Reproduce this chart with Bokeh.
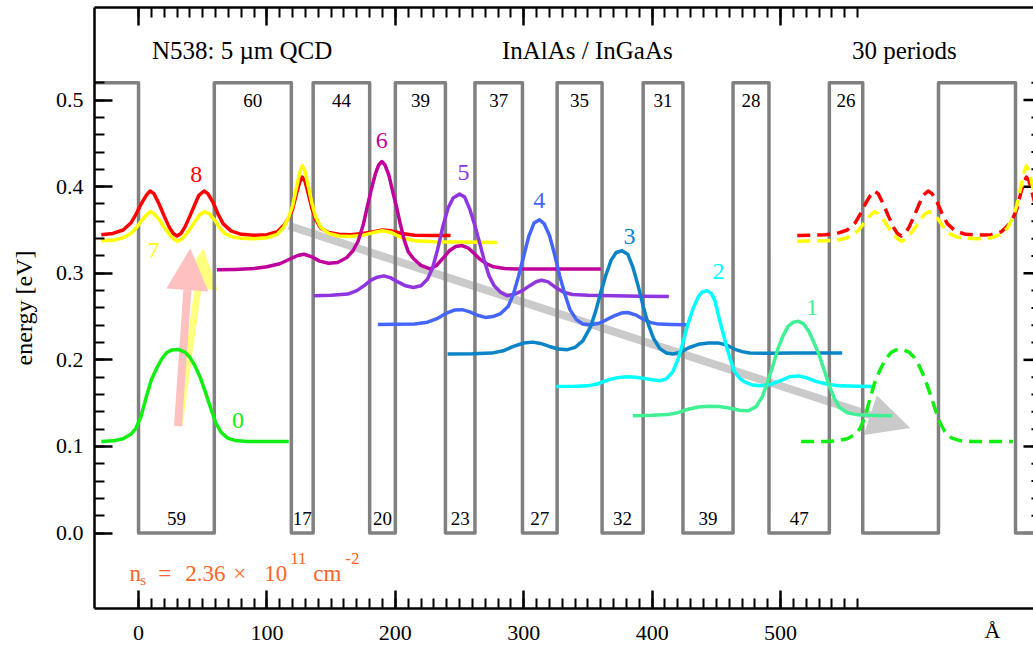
import numpy as np
from bokeh.plotting import figure
from bokeh.models import (Range1d, LinearAxis, FixedTicker, NumeralTickFormatter,
                          Arrow, NormalHead, ColumnDataSource)
from bokeh.core.properties import value
from bokeh.embed import file_html
from bokeh.resources import INLINE

SERIF = "Liberation Serif"

# ---------------- layer sequence of one period (Å): well, barrier, well, ... ----
layer_widths = [59, 60, 17, 44, 20, 39, 23, 37, 27, 35, 32, 31, 39, 28, 47, 26]
BARRIER = 0.52                     # conduction band offset [eV]
PERIOD = sum(layer_widths)         # 564 Å

# ---------------- subband |psi|^2 curves, offset by their energies ----------
# state 8
x8 = [-51, -29, -20, -12, -6, -2, 2, 6, 9, 12, 16, 20, 24, 27, 30, 33, 36, 40, 44, 47,
      51, 54, 58, 62, 66, 72, 80, 90, 100, 108, 113, 117, 120, 123, 125.5, 127.5, 129.5,
      132, 135, 138, 142, 148, 156, 165, 175, 183, 190, 197, 205, 215, 230, 243]
e8 = [0.3435, 0.3445, 0.346, 0.350, 0.358, 0.368, 0.380, 0.390, 0.395, 0.392,
      0.380, 0.366, 0.353, 0.346, 0.343, 0.346, 0.353, 0.366, 0.380, 0.390,
      0.395, 0.392, 0.382, 0.368, 0.357, 0.349, 0.345, 0.344, 0.3445, 0.348,
      0.355, 0.364, 0.374, 0.392, 0.405, 0.411, 0.407, 0.393, 0.375, 0.362,
      0.352, 0.347, 0.345, 0.3445, 0.346, 0.348, 0.350, 0.349, 0.346, 0.344,
      0.3435, 0.3435]
# state 7
x7 = [-51, -29, -20, -12, -6, -2, 2, 6, 9, 12, 16, 20, 24, 27, 30.5, 34, 37, 41, 45, 48,
      51.5, 55, 59, 63, 67, 73, 80, 90, 100, 108, 113, 117, 120, 123, 125.5, 127.5, 129.5,
      132, 135, 138, 142, 148, 156, 165, 175, 183, 190, 197, 205, 215, 230, 250, 279]
e7 = [0.337, 0.3375, 0.338, 0.341, 0.346, 0.352, 0.360, 0.367, 0.371, 0.369,
      0.362, 0.353, 0.345, 0.340, 0.337, 0.340, 0.345, 0.353, 0.362, 0.368,
      0.371, 0.369, 0.362, 0.353, 0.346, 0.342, 0.3405, 0.340, 0.341, 0.345,
      0.353, 0.365, 0.378, 0.399, 0.416, 0.424, 0.419, 0.402, 0.381, 0.365,
      0.353, 0.346, 0.343, 0.3425, 0.344, 0.347, 0.349, 0.347, 0.341, 0.3375,
      0.3365, 0.336, 0.3356]
# state 6
x6 = [61, 75, 90, 100, 110, 118, 124, 129, 135, 141, 148, 155, 162, 167, 171, 175, 178,
      181.5, 184.5, 187, 189.5, 192, 195, 198, 201, 204, 207, 210, 214, 220, 227, 232,
      237.5, 242, 247, 252, 257, 262, 266, 271, 276.5, 285, 295, 320, 340, 360]
e6 = [0.304, 0.3045, 0.3055, 0.3075, 0.311, 0.3165, 0.3205, 0.322, 0.319, 0.314,
      0.3115, 0.3125, 0.318, 0.326, 0.337, 0.356, 0.376, 0.398, 0.415, 0.425,
      0.429, 0.425, 0.413, 0.394, 0.376, 0.356, 0.338, 0.325, 0.317, 0.309,
      0.305, 0.309, 0.318, 0.326, 0.331, 0.332, 0.329, 0.322, 0.316, 0.311,
      0.3075, 0.3055, 0.305, 0.305, 0.305, 0.305]
# state 5
x5 = [136.3, 150, 163, 170, 176, 181, 186, 191, 196, 202, 208, 214, 220, 225, 229, 233,
      237, 241, 245, 250, 254, 258, 262, 265.5, 269, 273, 277, 282, 287, 293, 299, 305,
      310, 314, 319, 325, 331, 338, 350, 370, 390, 413]
e5 = [0.274, 0.2745, 0.276, 0.280, 0.286, 0.292, 0.2955, 0.297, 0.295, 0.290,
      0.2855, 0.2836, 0.2855, 0.293, 0.306, 0.328, 0.354, 0.375, 0.387, 0.3914,
      0.388, 0.374, 0.355, 0.336, 0.316, 0.297, 0.2855, 0.278, 0.274, 0.276,
      0.280, 0.286, 0.2905, 0.292, 0.290, 0.2835, 0.278, 0.2755, 0.2745, 0.274,
      0.2735, 0.2733]
# state 4
x4 = [186.4, 200, 215, 225, 233, 240, 246, 252, 258, 264, 270, 276, 282, 288, 292, 296,
      300, 304, 308, 312.3, 316, 320, 324, 328, 332, 336, 341, 346, 352, 358, 364, 370,
      376, 381, 387, 393, 399, 405, 415, 427]
e4 = [0.2409, 0.241, 0.2415, 0.2435, 0.248, 0.254, 0.2575, 0.258, 0.2555, 0.2515,
      0.249, 0.250, 0.2535, 0.262, 0.276, 0.297, 0.320, 0.343, 0.358, 0.3618,
      0.357, 0.344, 0.322, 0.297, 0.276, 0.258, 0.2465, 0.2415, 0.2405, 0.242,
      0.246, 0.2505, 0.254, 0.2547, 0.252, 0.247, 0.243, 0.2413, 0.2408, 0.2405]
# state 3
x3 = [240.7, 260, 275, 284, 292, 300, 307, 313, 320, 327, 334, 340, 346, 352, 356, 360,
      364, 368, 372, 376.5, 381, 385, 389, 393, 397, 401, 406, 411, 416, 422, 429, 436,
      444, 452, 458, 464, 470, 476, 490, 510, 530, 548]
e3 = [0.2067, 0.207, 0.2078, 0.2105, 0.2155, 0.2195, 0.2205, 0.219, 0.2155, 0.2125,
      0.2118, 0.2145, 0.222, 0.238, 0.256, 0.278, 0.298, 0.315, 0.324, 0.326,
      0.322, 0.307, 0.286, 0.262, 0.241, 0.225, 0.213, 0.208, 0.2067, 0.209,
      0.2143, 0.218, 0.2195, 0.2194, 0.217, 0.2125, 0.2095, 0.208, 0.2076, 0.2078,
      0.2078, 0.2078]
# state 2
x2 = [325.3, 340, 350, 358, 366, 373, 380, 387, 394, 400, 406, 411, 416, 420, 424, 428,
      432, 436, 439, 442.7, 446, 449, 452, 455, 458, 461, 464, 468, 472, 478, 484, 492,
      500, 507, 514, 521, 528, 535, 545, 560, 572.4]
e2 = [0.1693, 0.1695, 0.170, 0.1725, 0.177, 0.1795, 0.1805, 0.180, 0.1785, 0.177,
      0.1759, 0.178, 0.186, 0.200, 0.220, 0.242, 0.260, 0.273, 0.2785, 0.2798,
      0.277, 0.268, 0.249, 0.232, 0.215, 0.200, 0.187, 0.179, 0.1745, 0.171,
      0.170, 0.1715, 0.176, 0.1805, 0.1815, 0.179, 0.175, 0.1725, 0.170, 0.1695,
      0.1693]
# state 1
x1 = [385, 400, 412, 420, 428, 436, 444, 452, 460, 468, 475, 481, 486, 490, 494, 498,
      502, 506, 510, 514, 518, 522, 526, 530, 534, 538, 542, 546, 552, 560, 575, 587]
e1 = [0.1355, 0.136, 0.1368, 0.139, 0.143, 0.1455, 0.1465, 0.1462, 0.1445, 0.1418,
      0.1412, 0.146, 0.158, 0.175, 0.193, 0.213, 0.228, 0.239, 0.2435, 0.2445,
      0.2415, 0.233, 0.220, 0.206, 0.188, 0.170, 0.155, 0.145, 0.139, 0.1365,
      0.1358, 0.1355]
# state 0 (ground state)
x0 = [-48, -29, -20, -12, -6, -2, 2, 6, 10, 14, 18, 22, 26, 31, 36, 40, 44, 48, 52, 56,
      60, 64, 69, 75, 85, 117]
e0 = [0.1057, 0.1057, 0.1065, 0.109, 0.114, 0.121, 0.135, 0.157, 0.177, 0.190,
      0.201, 0.2085, 0.2115, 0.212, 0.209, 0.203, 0.193, 0.180, 0.163, 0.145,
      0.128, 0.117, 0.110, 0.107, 0.1058, 0.1058]

state_names = ["8", "7", "6", "5", "4", "3", "2", "1", "0"]
state_colors = ["#ff0000", "#ffff00", "#c0009c", "#9035e0", "#4466ff",
                "#0a84c6", "#00ffff", "#40f095", "#11ee11"]
state_x = [x8, x7, x6, x5, x4, x3, x2, x1, x0]
state_e = [e8, e7, e6, e5, e4, e3, e2, e1, e0]
# states repeated (dashed) in the next period
repeated = ["8", "7", "0"]

# tick positions
x_major = [0, 100, 200, 300, 400, 500]
x_minor = list(range(0, 561, 10))
y_major = [0.0, 0.1, 0.2, 0.3, 0.4, 0.5]
y_minor = [round(0.02 * i, 2) for i in range(27)]
UNIT_POS = 665          # where the unit sits in the x tick-label row

# ---------------- figure ------------------------------------------------------
X0, X1 = -34.3, 697.0
Y0, Y1 = -0.0871, 0.6069
p = figure(width=1033, height=650,
           x_range=Range1d(X0, X1), y_range=Range1d(Y0, Y1),
           output_backend="svg", toolbar_location=None,
           min_border_left=94, min_border_right=0, min_border_top=7,
           min_border_bottom=42)
p.grid.visible = False
p.outline_line_color = None
p.background_fill_color = "white"
p.border_fill_color = "white"


def inward_ticks(ax, ticker):
    ax.ticker = ticker
    ax.axis_line_width = 2.5
    ax.axis_line_color = "black"
    ax.major_tick_in = 18
    ax.major_tick_out = 0
    ax.minor_tick_in = 10
    ax.minor_tick_out = 0
    ax.major_tick_line_width = 2.5
    ax.minor_tick_line_width = 2
    ax.major_tick_line_color = "black"
    ax.minor_tick_line_color = "black"


x_ticker = FixedTicker(ticks=x_major, minor_ticks=x_minor)

# bottom axis
xa = p.xaxis[0]
inward_ticks(xa, x_ticker)
xa.major_label_standoff = 17
xa.major_label_text_font = SERIF
xa.major_label_text_font_size = "22px"
xa.major_label_text_color = "black"

# unit of the x axis, set in the same row as the tick labels
unit_axis = LinearAxis(ticker=FixedTicker(ticks=[UNIT_POS], minor_ticks=[]),
                       major_label_overrides={UNIT_POS: "Å"},
                       axis_line_color=None, major_tick_in=0, major_tick_out=0,
                       minor_tick_in=0, minor_tick_out=0,
                       major_label_standoff=-25,
                       major_label_text_font=SERIF,
                       major_label_text_font_size="22px",
                       major_label_text_color="black")
p.add_layout(unit_axis, "below")

# left axis
ya = p.yaxis[0]
inward_ticks(ya, FixedTicker(ticks=y_major, minor_ticks=y_minor))
ya.formatter = NumeralTickFormatter(format="0.0")
ya.major_label_standoff = 11
ya.major_label_text_font = SERIF
ya.major_label_text_font_size = "22px"
ya.major_label_text_color = "black"
ya.axis_label = "energy [eV]"
ya.axis_label_text_font = SERIF
ya.axis_label_text_font_size = "24px"
ya.axis_label_text_font_style = "normal"
ya.axis_label_text_color = "black"
ya.axis_label_standoff = 16

# top axis: ticks only (labels left unpainted, their room taken back)
top_axis = LinearAxis()
inward_ticks(top_axis, x_ticker)
top_axis.major_label_text_color = None
top_axis.major_label_text_font_size = "22px"
top_axis.major_label_standoff = -25
p.add_layout(top_axis, "above")

# right-hand edge: the tick marks of an axis just beyond the page edge
TICK_RIGHT_MAJOR, TICK_RIGHT_MINOR = 7.8, 1.6    # visible lengths [Å]
for ys_t, ln, lw in ((y_major, TICK_RIGHT_MAJOR, 2.5), (y_minor, TICK_RIGHT_MINOR, 2)):
    n = len(ys_t)
    p.segment(x0=[X1] * n, x1=[X1 - ln] * n, y0=ys_t, y1=ys_t,
              line_color="black", line_width=lw)

# ---------------- arrows (under everything else) -----------------------------
p.add_layout(Arrow(end=NormalHead(size=42, fill_color="#cacaca", line_color=None),
                   x_start=117, y_start=0.3548, x_end=601, y_end=0.1212,
                   line_color="#cacaca", line_width=8, level="underlay"))
p.add_layout(Arrow(end=NormalHead(size=40, fill_color="#ffff80", line_color=None),
                   x_start=31.5, y_start=0.1235, x_end=50.6, y_end=0.329,
                   line_color="#ffff80", line_width=7, level="underlay"))
p.add_layout(Arrow(end=NormalHead(size=42, fill_color="#ffc0c0", line_color=None),
                   x_start=30.7, y_start=0.1235, x_end=40.3, y_end=0.329,
                   line_color="#ffc0c0", line_width=8, level="underlay"))

# ---------------- conduction band profile -------------------------------------
edges = np.concatenate([[0.0], np.cumsum(layer_widths)])
prof_x = [-60.0, 0.0]
prof_y = [BARRIER, BARRIER]
for k in range(2):
    for i, w in enumerate(layer_widths):
        lvl = 0.0 if i % 2 == 0 else BARRIER
        start = k * PERIOD + edges[i]
        prof_x += [start, start + w]
        prof_y += [lvl, lvl]
p.line(prof_x, prof_y, line_color="#808080", line_width=3.5, line_join="round")

centers = [(edges[i] + edges[i + 1]) / 2 for i in range(len(layer_widths))]
well_c = [c for i, c in enumerate(centers) if i % 2 == 0]
well_t = [str(w) for i, w in enumerate(layer_widths) if i % 2 == 0]
barr_c = [c for i, c in enumerate(centers) if i % 2 == 1]
barr_t = [str(w) for i, w in enumerate(layer_widths) if i % 2 == 1]
p.text(x=well_c, y=[0.0173] * len(well_c), text=well_t, text_font=value(SERIF),
       text_font_size="19px", text_align="center", text_baseline="middle",
       text_color="black")
p.text(x=barr_c, y=[0.5] * len(barr_c), text=barr_t, text_font=value(SERIF),
       text_font_size="19px", text_align="center", text_baseline="middle",
       text_color="black")

# ---------------- wavefunctions -----------------------------------------------
for name, xs, es, col in zip(state_names, state_x, state_e, state_colors):
    if name in repeated:
        p.line([x + PERIOD for x in xs], es, line_color=col, line_width=3.5,
               line_dash="13 7", line_join="round")
        xs, es = xs[1:], es[1:]
    p.line(xs, es, line_color=col, line_width=3.5, line_join="round")

lab_x = [45, 11.7, 189.5, 253, 312, 382.4, 451.7, 524.5, 77.4]
lab_y = [0.4145, 0.326, 0.453, 0.4164, 0.3837, 0.342, 0.302, 0.2605, 0.1305]
p.text(x=lab_x, y=lab_y, text=state_names, text_color=state_colors,
       text_font=value(SERIF), text_font_size="24px", text_align="center",
       text_baseline="middle")

# ---------------- captions ----------------------------------------------------
p.text(x=[10.4, 283.0, 555.6], y=[0.557] * 3,
       text=["N538: 5 µm QCD", "InAlAs / InGaAs", "30 periods"],
       text_font=value(SERIF), text_font_size="25px", text_align="left",
       text_baseline="middle", text_color="black")

ns = ColumnDataSource(dict(
    text=["n", "s", "=", "2.36", "×", "10", "11", "cm", "-2"],
    dx=[0, 10.7, 28.7, 55.7, 103.7, 134.7, 160.7, 183.7, 215.7],
    dy=[0, 7, 0, 0, 0, 0, -14.7, 0, -14.7],
    size=["23px", "15px", "23px", "23px", "23px", "23px", "17px", "23px", "17px"],
))
p.text(x=-7.0, y=-0.0466, text="text", x_offset="dx", y_offset="dy",
       text_font_size="size", source=ns, text_font=value(SERIF),
       text_color="#ff6428", text_align="left", text_baseline="alphabetic")

open("out.html", "w").write(file_html(p, INLINE))
